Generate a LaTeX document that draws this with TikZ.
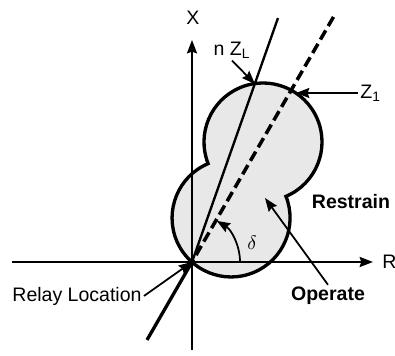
\documentclass[tikz,border=0pt]{standalone}
\usepackage{fontspec}
\setmainfont{Liberation Sans}
\usetikzlibrary{arrows.meta, positioning, calc}

\begin{document}
\begin{tikzpicture}[
  x=0.18mm, y=0.18mm,
  txt/.style={font=\normalsize, inner sep=1pt},
  bold/.style={font=\normalsize\bfseries, inner sep=1pt},
  axis/.style={-{Stealth[length=2.4mm, width=1.8mm, inset=0.3mm]}, line width=1.1pt},
  pointer/.style={-{Stealth[length=2.4mm, width=1.8mm, inset=0.3mm]}, line width=0.9pt},
  zone/.style={draw, line width=1.7pt, fill=black!9}
]
\useasboundingbox (-192,-94) rectangle (203,262);

% operate zone: two circles
\coordinate (upper) at (71,120);
\coordinate (lower) at (39,44);
\path[zone] ($(upper)+(-67.1:59)$) arc[start angle=-67.1, end angle=201.5, radius=59]
  arc[start angle=112.9, end angle=381.5, radius=59] -- cycle;

% axes
\coordinate (o) at (0,0);
\coordinate (xbot) at (0,-88);
\coordinate (xtop) at (0,222);
\coordinate (rleft) at (-180,0);
\coordinate (rright) at (181,0);
\draw[axis] (xbot) -- (xtop);
\draw[axis] (rleft) -- (rright);
\node[txt] (xlab) at (1,244) {X};
\node[txt, anchor=west, inner sep=0pt] (rlab) at (190,0) {R};

% line and characteristic angle
\coordinate (zltop) at (86,244);
\coordinate (z1top) at (60:283);
\coordinate (back) at (240:90);
\draw[line width=1.2pt] (o) -- (zltop);
\draw[line width=1.8pt, dash pattern=on 1.9mm off 0.9mm] (z1top) -- (o);
\draw[line width=1.7pt] (back) -- (o);
\draw[pointer] (48,0) arc[start angle=0, end angle=59, radius=48];
\node[txt] (delta) at (60,19) {$\delta$};

% labels
\coordinate (zlcut) at (63,178);
\coordinate (z1cut) at (104,169);
\coordinate (opzone) at (73,64);
\node[txt] (nzl) at (40,212) {n Z\textsubscript{L}};
\node[txt, anchor=west] (z1) at (166,169) {Z\textsubscript{1}};
\node[bold] (restrain) at (159,60) {Restrain};
\node[bold] (operate) at (136,-34) {Operate};
\node[txt] (relay) at (-115,-34) {Relay Location};

\draw[pointer] (nzl.south) -- (zlcut);
\draw[pointer] (z1.west) -- (z1cut);
\draw[pointer] (operate.north) -- (opzone);
\draw[pointer] (relay.east) -- (o);

\end{tikzpicture}
\end{document}
